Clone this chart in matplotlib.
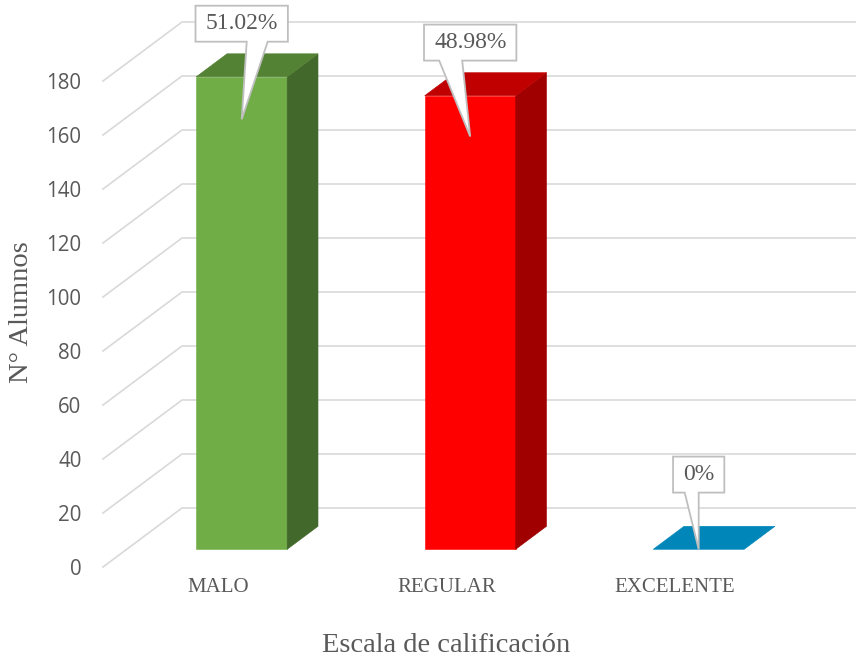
import matplotlib
matplotlib.use("Agg")
import matplotlib.pyplot as plt
from matplotlib.patches import Polygon

################################################
# Data
################################################

categories = ["MALO", "REGULAR", "EXCELENTE"]
alumnos = [175, 168, 0]
porcentajes = ["51.02%", "48.98%", "0%"]
y_ticks = [0, 20, 40, 60, 80, 100, 120, 140, 160, 180]

front_colors = ["#70AD47", "#FF0000", "#0086B9"]
top_colors = ["#548235", "#C00000", "#0086B9"]
side_colors = ["#43682B", "#A00000", "#006A93"]

# pointer base of each callout, pixels from the box centre
callout_base_px = [(5, 26), (-31, -8), (-14, 0)]

################################################
# Geometry (fake 3D, oblique projection)
################################################

W, H = 856, 657
PX_X = 228.5          # pixels per category unit
PX_Y = 2.7            # pixels per value unit
X_LEFT = (103 - 218) / PX_X
X_RIGHT = (W - 218) / PX_X
DEPTH_DX = 79 / PX_X
DEPTH_DY = 59 / PX_Y
BAR_W = 91 / PX_X
D0, D1 = 0.30, 0.69

GRID = "#D9D9D9"
TEXT = "#595959"
SERIF = ["Liberation Serif", "DejaVu Serif"]

fig = plt.figure(figsize=(W / 100, H / 100), dpi=100)
ax = fig.add_axes([103 / W, (H - 567) / H, (W - 103) / W, 567 / H])
ax.set_xlim(X_LEFT, X_RIGHT)
ax.set_ylim(0, 567 / PX_Y)
for s in ax.spines.values():
    s.set_visible(False)

# gridlines: diagonal on the side wall, then flat on the back wall
for t in y_ticks:
    ax.plot([X_LEFT, X_LEFT + DEPTH_DX, X_RIGHT],
            [t, t + DEPTH_DY, t + DEPTH_DY],
            color=GRID, lw=1.2, zorder=1, clip_on=False,
            solid_joinstyle="miter")

ddx = (D1 - D0) * DEPTH_DX
ddy = (D1 - D0) * DEPTH_DY
base_y = D0 * DEPTH_DY

for i, v in enumerate(alumnos):
    x0 = i - BAR_W / 2 + D0 * DEPTH_DX
    x1 = x0 + BAR_W
    top = base_y + v
    faces = []
    if v > 0:
        faces.append(([(x0, base_y), (x1, base_y), (x1, top), (x0, top)], front_colors[i]))
        faces.append(([(x1, base_y), (x1 + ddx, base_y + ddy),
                       (x1 + ddx, top + ddy), (x1, top)], side_colors[i]))
    faces.append(([(x0, top), (x1, top), (x1 + ddx, top + ddy), (x0 + ddx, top + ddy)],
                  top_colors[i]))
    for verts, c in faces:
        ax.add_patch(Polygon(verts, closed=True, facecolor=c, edgecolor=c,
                             lw=0.4, zorder=2))

################################################
# Callouts
################################################

fig.canvas.draw()
renderer = fig.canvas.get_renderer()

for i, v in enumerate(alumnos):
    cx = i + D0 * DEPTH_DX
    bottom = base_y + max(v + 13, 21)
    height = 36 / PX_Y
    cy = bottom + height / 2
    txt = ax.text(cx, cy, porcentajes[i], ha="center", va="center",
                  fontfamily=SERIF, fontsize=17, color=TEXT,
                  zorder=5)
    bb = txt.get_window_extent(renderer)
    half = (bb.width / 2 + 10) / PX_X
    left, right = cx - half, cx + half
    bl = cx + callout_base_px[i][0] / PX_X
    br = cx + callout_base_px[i][1] / PX_X
    tip = (cx, base_y + 0.91 * v)
    verts = [(left, bottom), (bl, bottom), tip, (br, bottom),
             (right, bottom), (right, bottom + height), (left, bottom + height)]
    ax.add_patch(Polygon(verts, closed=True, facecolor="white",
                         edgecolor="#BFBFBF", lw=1.3, zorder=4,
                         joinstyle="miter"))

################################################
# Axes text
################################################

ax.set_yticks(y_ticks)
ax.set_yticklabels([str(t) for t in y_ticks], fontfamily="Open Sans",
                   fontsize=14.8, color=TEXT)
ax.set_xticks(range(len(categories)))
ax.set_xticklabels(categories, fontfamily=SERIF, fontsize=15,
                   color=TEXT)
ax.tick_params(axis="y", length=0, pad=15.5)
ax.tick_params(axis="x", length=0, pad=8)

fig.text(22 / W, 1 - 312 / H, "N° Alumnos", rotation=90, ha="center",
         va="center", fontfamily=SERIF, fontsize=20.5, color=TEXT)
fig.text(446 / W, 1 - 646 / H, "Escala de calificación", ha="center",
         va="center", fontfamily=SERIF, fontsize=20.5, color=TEXT)

fig.savefig("out.png", dpi=100)
